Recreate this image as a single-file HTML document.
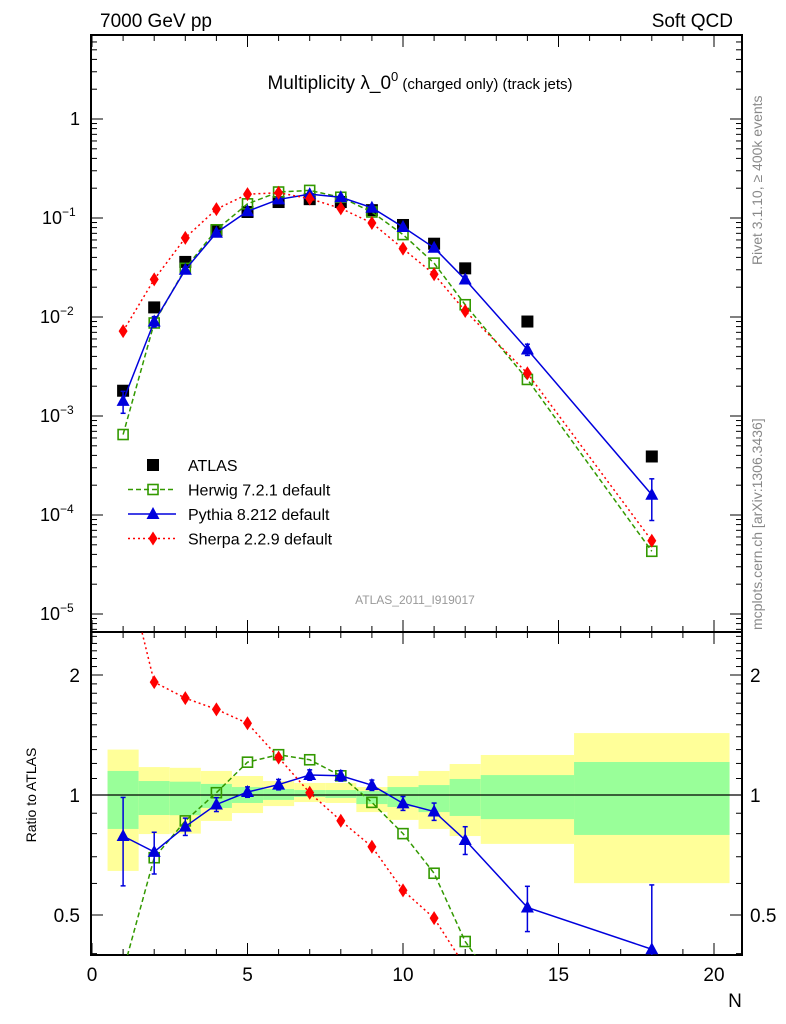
<!DOCTYPE html>
<html><head><meta charset="utf-8"><style>
html,body{margin:0;background:#fff;overflow:hidden;width:786px;height:1024px;}
svg{display:block;font-family:"Liberation Sans",sans-serif;}
</style></head><body>
<svg id="c" width="786" height="1024" viewBox="0 0 786 1024" xmlns="http://www.w3.org/2000/svg">
<text x="100" y="27" font-size="19">7000 GeV pp</text>
<text x="733" y="27" font-size="19" text-anchor="end">Soft QCD</text>
<text x="420" y="89" font-size="19" text-anchor="middle">Multiplicity λ_0<tspan dy="-8" font-size="13">0</tspan><tspan dy="8" font-size="15"> (charged only) (track jets)</tspan></text>
<text transform="translate(762,265) rotate(-90)" font-size="14" fill="#888">Rivet 3.1.10, ≥ 400k events</text>
<text transform="translate(762,630) rotate(-90)" font-size="14" fill="#888">mcplots.cern.ch [arXiv:1306.3436]</text>
<text x="415" y="604" font-size="12" fill="#999" text-anchor="middle">ATLAS_2011_I919017</text>
<text transform="translate(36,795) rotate(-90)" font-size="14" text-anchor="middle">Ratio to ATLAS</text>
<text x="735" y="1007" font-size="19" text-anchor="middle">N</text>
<g id="g"></g>
</svg>
<script>
const xs=[1,2,3,4,5,6,7,8,9,10,11,12,14,18];
const atlas=[1.8e-3,0.0125,0.036,0.075,0.115,0.145,0.155,0.145,0.12,0.085,0.055,0.031,0.009,3.9e-4];
const herwig=[6.5e-4,8.7e-3,0.031,0.076,0.139,0.183,0.19,0.162,0.115,0.068,0.035,0.0133,2.34e-3,4.3e-5];
const pythia=[1.42e-3,9e-3,0.030,0.071,0.117,0.154,0.174,0.162,0.127,0.081,0.050,0.0239,4.7e-3,1.6e-4];
const sherpa=[7.2e-3,0.024,0.063,0.123,0.174,0.18,0.157,0.125,0.089,0.049,0.027,0.0115,2.7e-3,5.5e-5];
const pyErr=[0.25,0.12,0.05,0.04,0.03,0.03,0.03,0.03,0.03,0.04,0.05,0.08,0.13,0.45];
const binLo=[0.5,1.5,2.5,3.5,4.5,5.5,6.5,7.5,8.5,9.5,10.5,11.5,12.5,15.5];
const binHi=[1.5,2.5,3.5,4.5,5.5,6.5,7.5,8.5,9.5,10.5,11.5,12.5,15.5,20.5];
const yelHi=[1.30,1.175,1.17,1.149,1.116,1.084,1.072,1.072,1.047,1.116,1.149,1.196,1.26,1.43];
const yelLo=[0.645,0.798,0.80,0.861,0.901,0.938,0.960,0.955,0.906,0.866,0.822,0.789,0.754,0.601];
const grnHi=[1.149,1.084,1.08,1.066,1.047,1.035,1.029,1.029,1.023,1.047,1.059,1.097,1.122,1.21];
const grnLo=[0.822,0.891,0.89,0.928,0.955,0.972,0.989,0.983,0.949,0.933,0.906,0.886,0.870,0.794];
const xTicks=[0,5,10,15,20];
const ratioTicks=[0.5,1,2];
const NS='http://www.w3.org/2000/svg';
const G=document.getElementById('g');
const L=91,R=742,T=35,MB=632,RB=955;
const X=v=>92+v*31.1;
const Y=v=>119-99*Math.log10(v);
const YR=v=>795-120*Math.log2(v);
function el(t,a,p){const e=document.createElementNS(NS,t);for(const k in a)e.setAttribute(k,a[k]);(p||G).appendChild(e);return e;}
const clipM=el('clipPath',{id:'cm'});el('rect',{x:L,y:T,width:R-L,height:MB-T},clipM);
const clipR=el('clipPath',{id:'cr'});el('rect',{x:L,y:MB,width:R-L,height:RB-MB},clipR);
const bands=el('g',{'clip-path':'url(#cr)'});


binLo.forEach((b,i)=>{
 const y=el('rect',{x:X(b),y:YR(yelHi[i]),width:X(binHi[i])-X(b),height:YR(yelLo[i])-YR(yelHi[i]),fill:'#ffff99'},bands);
 
 
 const g=el('rect',{x:X(b),y:YR(grnHi[i]),width:X(binHi[i])-X(b),height:YR(grnLo[i])-YR(grnHi[i]),fill:'#99ff99'},bands);
 
 
});
el('line',{x1:L,x2:R,y1:YR(1),y2:YR(1),stroke:'#000','stroke-width':1.2});
const f1=el('rect',{x:L,y:T,width:R-L,height:MB-T,fill:'none',stroke:'#000','stroke-width':2});


const f2=el('rect',{x:L,y:MB,width:R-L,height:RB-MB,fill:'none',stroke:'#000','stroke-width':2});


for(let v=0;v<=20;v++){const len=v%5==0?12:6;
 [T,MB].forEach(y0=>{el('line',{x1:X(v),x2:X(v),y1:y0,y2:y0+len,stroke:'#000'});});
 [MB,RB].forEach(y0=>{el('line',{x1:X(v),x2:X(v),y1:y0,y2:y0-len,stroke:'#000'});});
}
xTicks.forEach(v=>{const t=el('text',{x:X(v),y:981,'font-size':19,'text-anchor':'middle'});t.textContent=v;
 
 });
for(let e=-6;e<=0;e++){for(let m=1;m<=9;m++){const v=m*Math.pow(10,e);const y=Y(v);if(y<T||y>MB)continue;const len=m==1?12:6;
 el('line',{x1:L,x2:L+len,y1:y,y2:y,stroke:'#000'});el('line',{x1:R,x2:R-len,y1:y,y2:y,stroke:'#000'});}}
for(let e=-5;e<=0;e++){const t=el('text',{x:80,y:Y(Math.pow(10,e))+6,'font-size':18,'text-anchor':'end'});
 if(e==0)t.textContent='1';else{t.textContent='10';const s=el('tspan',{dy:-8,'font-size':12},t);s.textContent='−'+(-e);t.setAttribute('text-anchor','start');t.setAttribute('x',e==-1?42:40);}
 
 }
for(let v=0.4;v<=2.55;v+=0.1){const y=YR(v);if(y<MB||y>RB)continue;const maj=Math.abs(v-0.5)<1e-6||Math.abs(v-1)<1e-6||Math.abs(v-2)<1e-6;const len=maj?12:6;
 el('line',{x1:L,x2:L+len,y1:y,y2:y,stroke:'#000'});el('line',{x1:R,x2:R-len,y1:y,y2:y,stroke:'#000'});}
ratioTicks.forEach(v=>{[[80,'end'],[750,'start']].forEach(([x,a])=>{const t=el('text',{x:x,y:YR(v)+7,'font-size':19,'text-anchor':a});t.textContent=v;
 
 });});
function marker(g,type,x,y,c){
 if(type=='sq')el('rect',{x:x-6,y:y-6,width:12,height:12,fill:'#000'},g);
 if(type=='osq')el('rect',{x:x-5,y:y-5,width:10,height:10,fill:'#fff','fill-opacity':0,stroke:c,'stroke-width':1.6},g);
 if(type=='tri')el('polygon',{points:`${x},${y-7} ${x-6.5},${y+5} ${x+6.5},${y+5}`,fill:c},g);
 if(type=='dia')el('polygon',{points:`${x},${y-7} ${x-4.5},${y} ${x},${y+7} ${x+4.5},${y}`,fill:c},g);
}
function series(name,vals,c,dash,type,yf,clip,ratio,err){
 const g=el('g',{'clip-path':clip});
 
 
 const v=vals.map((a,i)=>ratio?a/atlas[i]:a);
 if(c){el('polyline',{points:xs.map((x,i)=>X(x)+','+yf(v[i])).join(' '),fill:'none',stroke:c,'stroke-width':1.5,'stroke-dasharray':dash},g);}
 xs.forEach((x,i)=>{
  if(err){el('line',{x1:X(x),x2:X(x),y1:yf(v[i]*(1+err[i])),y2:yf(v[i]*(1-err[i])),stroke:c,'stroke-width':1.5},g);
   [1+err[i],1-err[i]].forEach(f=>el('line',{x1:X(x)-2.5,x2:X(x)+2.5,y1:yf(v[i]*f),y2:yf(v[i]*f),stroke:c,'stroke-width':1.5},g));}
  marker(g,type,X(x),yf(v[i]),c);});
}
series('atlas-data',atlas,null,'', 'sq',Y,'url(#cm)',false,null);
series('herwig-series',herwig,'#339900','5,3','osq',Y,'url(#cm)',false,null);
series('pythia-series',pythia,'#0000dd','','tri',Y,'url(#cm)',false,pyErr);
series('sherpa-series',sherpa,'#ff0000','2,3','dia',Y,'url(#cm)',false,null);
series('herwig-ratio',herwig,'#339900','5,3','osq',YR,'url(#cr)',true,null);
series('pythia-ratio',pythia,'#0000dd','','tri',YR,'url(#cr)',true,pyErr);
series('sherpa-ratio',sherpa,'#ff0000','2,3','dia',YR,'url(#cr)',true,null);
const leg=[['ATLAS',null,'','sq'],['Herwig 7.2.1 default','#339900','5,3','osq'],['Pythia 8.212 default','#0000dd','','tri'],['Sherpa 2.2.9 default','#ff0000','2,3','dia']];
leg.forEach((l,i)=>{const y=465+i*24.5;const g=el('g',{});
 
 
 if(l[1])el('line',{x1:128,x2:176,y1:y,y2:y,stroke:l[1],'stroke-width':1.5,'stroke-dasharray':l[2]},g);
 marker(g,l[3],153,y,l[1]);
 const t=el('text',{x:188,y:y+6,'font-size':16},g);t.textContent=l[0];});
</script>
</body></html>
